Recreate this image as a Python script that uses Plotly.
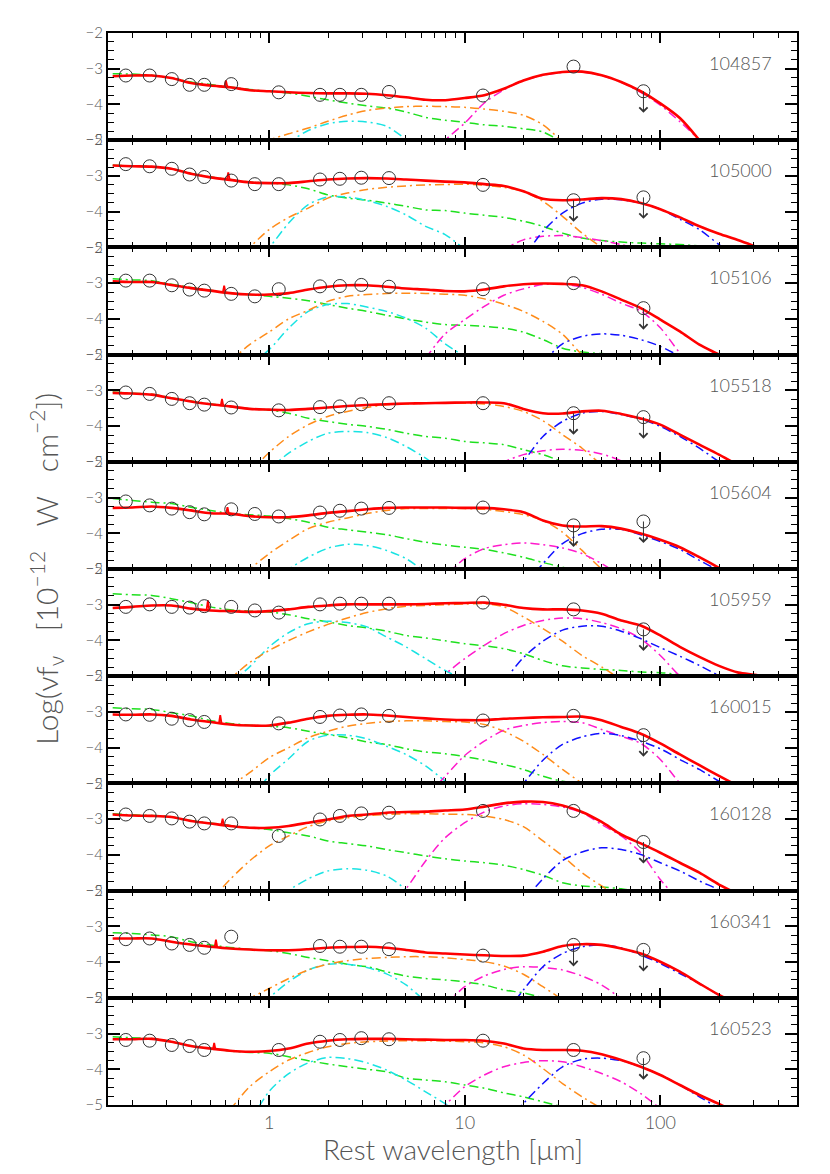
"""Stacked SED fits for ten sources: photometry, upper limits and model components."""

import numpy as np
import plotly.graph_objects as go
from plotly.subplots import make_subplots

N = None

SOURCES = ["104857", "105000", "105106", "105518", "105604",
           "105959", "160015", "160128", "160341", "160523"]

# model grid: log10 of rest wavelength (micron)
LOG_GRID = [-0.8, -0.7, -0.6, -0.5, -0.4, -0.3, -0.2, -0.1, 0.0, 0.1, 0.2, 0.3,
            0.4, 0.5, 0.6, 0.7, 0.8, 0.9, 1.0, 1.1, 1.2, 1.3, 1.4, 1.5,
            1.6, 1.7, 1.8, 1.9, 2.0, 2.1, 2.2, 2.3, 2.4, 2.5, 2.6, 2.7]

# photometry (rest micron) and log(nu f_nu)
PHOT_WAVE = [0.185, 0.245, 0.318, 0.392, 0.466, 0.640, 0.845, 1.12,
             1.82, 2.30, 2.96, 4.10, 12.4, 36.0]
PHOT = [
    [-3.19, -3.19, -3.29, -3.45, -3.45, -3.43, N, -3.66, -3.73, -3.73, -3.73, -3.65, -3.75, -2.94],
    [-2.67, -2.73, -2.80, -2.96, -3.03, -3.13, -3.23, -3.23, -3.10, -3.08, -3.05, -3.06, -3.25, N],
    [-2.93, -2.93, -3.06, -3.18, -3.21, -3.30, -3.37, -3.17, -3.09, -3.08, -3.05, -3.10, -3.17, -3.00],
    [-3.06, -3.10, -3.24, -3.36, -3.40, -3.48, N, -3.56, -3.47, -3.45, -3.39, -3.36, -3.36, N],
    [-3.11, -3.22, -3.31, -3.41, -3.47, -3.33, -3.46, -3.53, -3.42, -3.37, -3.31, -3.29, -3.28, N],
    [-3.06, -2.99, -3.06, -3.08, -3.04, -3.06, -3.16, -3.22, -2.99, -2.97, -2.97, -2.97, -2.94, -3.13],
    [-3.07, -3.08, -3.19, -3.23, -3.28, N, N, -3.32, -3.14, -3.10, -3.07, -3.11, -3.24, -3.11],
    [-2.87, -2.91, -2.98, -3.07, -3.12, -3.12, N, -3.47, -3.01, -2.91, -2.84, -2.82, -2.77, -2.77],
    [-3.36, -3.34, -3.48, -3.52, -3.60, -3.29, N, N, -3.55, -3.57, -3.57, -3.64, -3.82, N],
    [-3.18, -3.20, -3.32, -3.35, -3.46, N, N, -3.46, -3.23, -3.18, -3.13, -3.16, -3.20, -3.46],
]

# upper limits
LIMIT_WAVE = [36.0, 82.0]
LIMITS = [
    [N, -3.63], [-3.68, -3.60], [N, -3.70], [-3.64, -3.75], [-3.78, -3.67],
    [N, -3.69], [N, -3.65], [N, -3.64], [-3.52, -3.66], [N, -3.69],
]

# total model, sampled on LOG_GRID from its first point
TOTAL = [
    [-3.21, -3.19, -3.19, -3.26, -3.40, -3.47, -3.52, -3.60, -3.63, -3.66, -3.68, -3.69, -3.69, -3.70, -3.74, -3.80, -3.87, -3.88, -3.82, -3.74, -3.56, -3.33, -3.17, -3.09, -3.08, -3.18, -3.37, -3.63, -3.97, -4.38, -5.0, -5.7],
    [-2.71, -2.73, -2.74, -2.80, -2.94, -3.04, -3.11, -3.18, -3.20, -3.20, -3.15, -3.10, -3.07, -3.06, -3.07, -3.10, -3.13, -3.16, -3.18, -3.23, -3.28, -3.43, -3.64, -3.68, -3.66, -3.62, -3.65, -3.76, -3.93, -4.16, -4.41, -4.62, -4.80, -5.0, -5.2],
    [-2.95, -2.97, -2.97, -3.05, -3.14, -3.21, -3.28, -3.32, -3.32, -3.28, -3.18, -3.10, -3.06, -3.06, -3.10, -3.15, -3.18, -3.22, -3.23, -3.18, -3.09, -3.03, -3.01, -3.02, -3.06, -3.23, -3.46, -3.70, -4.02, -4.35, -4.72, -5.0, -5.3],
    [-3.07, -3.09, -3.12, -3.22, -3.31, -3.39, -3.45, -3.52, -3.54, -3.55, -3.52, -3.48, -3.44, -3.41, -3.39, -3.37, -3.36, -3.35, -3.34, -3.34, -3.36, -3.52, -3.64, -3.65, -3.59, -3.57, -3.66, -3.79, -3.96, -4.24, -4.52, -4.80, -5.1],
    [-3.29, -3.28, -3.25, -3.29, -3.36, -3.44, -3.45, -3.52, -3.55, -3.55, -3.50, -3.43, -3.38, -3.33, -3.29, -3.28, -3.28, -3.28, -3.29, -3.29, -3.33, -3.41, -3.64, -3.78, -3.81, -3.80, -3.87, -4.01, -4.18, -4.39, -4.67, -4.97, -5.3],
    [-3.09, -3.06, -3.02, -3.02, -3.11, -3.16, -3.18, -3.20, -3.18, -3.13, -3.06, -3.02, -2.99, -2.99, -2.99, -2.99, -2.98, -2.96, -2.95, -2.94, -3.00, -3.09, -3.13, -3.13, -3.16, -3.25, -3.44, -3.58, -3.86, -4.18, -4.46, -4.71, -4.90, -4.98, -5.15],
    [-3.07, -3.08, -3.07, -3.11, -3.21, -3.28, -3.35, -3.38, -3.38, -3.30, -3.19, -3.11, -3.08, -3.07, -3.10, -3.14, -3.18, -3.21, -3.23, -3.23, -3.19, -3.17, -3.15, -3.14, -3.13, -3.23, -3.42, -3.61, -3.88, -4.19, -4.49, -4.79, -5.08],
    [-2.87, -2.90, -2.91, -2.94, -3.05, -3.12, -3.19, -3.24, -3.24, -3.19, -3.10, -3.01, -2.91, -2.87, -2.82, -2.80, -2.79, -2.76, -2.73, -2.65, -2.56, -2.51, -2.52, -2.62, -2.80, -3.08, -3.43, -3.68, -3.94, -4.22, -4.50, -4.83, -5.1],
    [-3.34, -3.34, -3.34, -3.43, -3.51, -3.57, -3.62, -3.65, -3.67, -3.67, -3.64, -3.60, -3.58, -3.57, -3.60, -3.66, -3.73, -3.76, -3.79, -3.81, -3.83, -3.82, -3.71, -3.55, -3.50, -3.52, -3.62, -3.76, -3.99, -4.27, -4.60, -4.92, -5.2],
    [-3.16, -3.16, -3.15, -3.23, -3.35, -3.42, -3.48, -3.51, -3.49, -3.42, -3.28, -3.20, -3.16, -3.15, -3.15, -3.16, -3.17, -3.18, -3.18, -3.20, -3.28, -3.42, -3.46, -3.46, -3.48, -3.58, -3.74, -3.93, -4.16, -4.44, -4.72, -4.97, -5.25],
]

# stellar component, from the first grid point
STELLAR = [
    [-3.14, -3.15, -3.18, -3.26, -3.37, -3.44, -3.51, -3.58, -3.63, -3.68, -3.77, -3.87, -3.96, -4.04, -4.10, -4.21, -4.36, -4.44, -4.50, -4.57, -4.61, -4.68, -4.77, -5.05, -5.3],
    [-2.70, -2.72, -2.74, -2.80, -2.93, -3.03, -3.10, -3.17, -3.20, -3.25, -3.36, -3.53, -3.62, -3.68, -3.76, -3.85, -3.95, -3.97, -4.04, -4.10, -4.16, -4.27, -4.41, -4.60, -4.74, -4.81, -4.85, -4.88, -4.90, -4.92, -4.96, -5.05, -5.2],
    [-2.88, -2.91, -2.93, -3.03, -3.12, -3.20, -3.28, -3.32, -3.37, -3.42, -3.49, -3.60, -3.70, -3.79, -3.90, -4.00, -4.09, -4.16, -4.18, -4.21, -4.26, -4.37, -4.58, -4.82, -4.93, -4.97, -5.0, -5.1],
    [-3.05, -3.08, -3.11, -3.21, -3.30, -3.38, -3.45, -3.52, -3.55, -3.64, -3.78, -3.87, -3.95, -4.01, -4.09, -4.20, -4.29, -4.34, -4.43, -4.47, -4.52, -4.66, -4.80, -5.0, -5.2],
    [-3.03, -3.08, -3.13, -3.17, -3.27, -3.36, -3.45, -3.48, -3.52, -3.59, -3.69, -3.83, -3.90, -3.97, -4.04, -4.15, -4.25, -4.33, -4.39, -4.45, -4.55, -4.67, -4.82, -4.95, -5.1],
    [-2.69, -2.72, -2.74, -2.83, -2.94, -3.06, -3.14, -3.18, -3.20, -3.28, -3.39, -3.48, -3.58, -3.65, -3.74, -3.86, -3.93, -4.01, -4.09, -4.15, -4.23, -4.37, -4.56, -4.71, -4.77, -4.81, -4.84, -4.88, -4.90, -4.96, -5.05],
    [-2.88, -2.91, -2.93, -3.02, -3.11, -3.24, -3.32, -3.37, -3.40, -3.44, -3.54, -3.63, -3.72, -3.84, -3.91, -4.03, -4.12, -4.17, -4.25, -4.35, -4.47, -4.61, -4.80, -4.94, -4.98, -5.05],
    [-2.85, -2.88, -2.90, -2.93, -3.04, -3.11, -3.18, -3.24, -3.29, -3.38, -3.47, -3.61, -3.68, -3.75, -3.85, -3.94, -4.03, -4.11, -4.17, -4.22, -4.29, -4.41, -4.57, -4.78, -4.87, -4.90, -4.95, -5.05],
    [-3.18, -3.20, -3.24, -3.29, -3.43, -3.52, -3.59, -3.64, -3.68, -3.76, -3.87, -3.96, -4.06, -4.13, -4.27, -4.39, -4.46, -4.50, -4.55, -4.64, -4.78, -4.86, -5.0, -5.15],
    [-3.09, -3.12, -3.14, -3.23, -3.34, -3.42, -3.49, -3.53, -3.55, -3.65, -3.76, -3.85, -3.93, -4.00, -4.07, -4.25, -4.30, -4.35, -4.44, -4.53, -4.66, -4.77, -4.91, -5.05],
]

# (first log wavelength, values) for the dust components
TORUS = [
    (-0.1, [-5.3, -5.0, -4.82, -4.66, -4.47, -4.30, -4.17, -4.10, -4.06, -4.05, -4.06, -4.08, -4.13, -4.19, -4.30, -4.57, -5.05]),
    (-0.2, [-5.5, -5.0, -4.50, -4.16, -3.90, -3.62, -3.48, -3.38, -3.32, -3.28, -3.25, -3.24, -3.23, -3.26, -3.32, -3.43, -3.71, -4.13, -4.60, -5.0, -5.4]),
    (-0.2, [-5.2, -4.72, -4.37, -4.00, -3.76, -3.51, -3.37, -3.32, -3.29, -3.28, -3.29, -3.31, -3.34, -3.44, -3.59, -3.79, -4.07, -4.43, -5.0, -5.4]),
    (-0.1, [-5.3, -4.74, -4.29, -3.96, -3.73, -3.59, -3.48, -3.40, -3.38, -3.36, -3.35, -3.36, -3.38, -3.45, -3.59, -3.85, -4.24, -4.62, -5.1]),
    (-0.2, [-5.4, -5.0, -4.57, -4.20, -3.87, -3.69, -3.57, -3.45, -3.36, -3.31, -3.31, -3.31, -3.31, -3.33, -3.39, -3.48, -3.64, -3.97, -4.48, -5.0, -5.4]),
    (-0.3, [-5.5, -5.07, -4.62, -4.28, -4.00, -3.76, -3.55, -3.37, -3.22, -3.11, -3.04, -3.02, -3.00, -2.98, -2.97, -3.06, -3.34, -3.67, -4.02, -4.42, -4.74, -5.1]),
    (-0.2, [-5.07, -4.70, -4.28, -4.00, -3.72, -3.54, -3.40, -3.32, -3.27, -3.25, -3.25, -3.27, -3.28, -3.35, -3.54, -3.82, -4.19, -4.61, -5.0, -5.4]),
    (-0.3, [-5.3, -4.69, -4.17, -3.75, -3.47, -3.21, -3.05, -2.96, -2.90, -2.87, -2.85, -2.85, -2.86, -2.87, -2.91, -3.01, -3.21, -3.61, -4.03, -4.50, -4.87, -5.2]),
    (-0.2, [-5.3, -5.02, -4.74, -4.46, -4.22, -4.06, -3.96, -3.90, -3.87, -3.85, -3.85, -3.88, -3.93, -3.99, -4.11, -4.34, -4.69, -5.05]),
    (-0.2, [-5.14, -4.49, -4.07, -3.74, -3.53, -3.37, -3.28, -3.23, -3.21, -3.20, -3.20, -3.21, -3.23, -3.26, -3.37, -3.60, -3.98, -4.40, -4.77, -5.1]),
]
HOT = [
    (0.0, [-5.3, -5.05, -4.73, -4.54, -4.47, -4.49, -4.61, -4.98, -5.4]),
    (-0.1, [-5.5, -5.0, -4.32, -3.80, -3.59, -3.59, -3.69, -3.85, -4.09, -4.41, -4.64, -5.05, -5.4]),
    (-0.1, [-5.3, -4.86, -4.26, -3.79, -3.60, -3.57, -3.67, -3.79, -3.98, -4.26, -4.70, -5.05]),
    (0.0, [-5.2, -4.76, -4.43, -4.20, -4.15, -4.18, -4.32, -4.57, -4.90, -5.3]),
    (0.0, [-5.4, -5.0, -4.67, -4.42, -4.31, -4.34, -4.48, -4.71, -5.09]),
    (-0.2, [-5.2, -4.74, -4.18, -3.78, -3.53, -3.46, -3.50, -3.62, -3.90, -4.18, -4.51, -4.84, -5.1]),
    (-0.1, [-5.5, -4.79, -4.31, -3.82, -3.65, -3.65, -3.75, -3.96, -4.19, -4.51, -4.93, -5.3]),
    (0.0, [-5.5, -5.0, -4.67, -4.45, -4.39, -4.43, -4.59, -4.97, -5.5]),
    (-0.1, [-5.5, -5.0, -4.55, -4.22, -4.06, -4.06, -4.15, -4.33, -4.64, -5.11]),
    (-0.1, [-5.5, -4.62, -4.12, -3.82, -3.67, -3.70, -3.82, -4.02, -4.30, -4.63, -4.96, -5.3]),
]
WARM = [
    (0.8, [-5.6, -5.0, -4.52, -3.96, -3.59, -3.33, -3.18, -3.10, -3.09, -3.19, -3.38, -3.66, -4.02, -4.48, -5.0, -5.6]),
    (1.1, [-5.4, -5.05, -4.79, -4.69, -4.67, -4.72, -4.81, -4.92, -5.05, -5.3]),
    (0.8, [-5.1, -4.42, -4.02, -3.65, -3.34, -3.16, -3.04, -3.03, -3.12, -3.31, -3.56, -3.78, -4.25, -4.96, -5.6]),
    (1.1, [-5.3, -5.0, -4.80, -4.69, -4.65, -4.68, -4.78, -4.97, -5.2]),
    (0.9, [-5.2, -4.71, -4.43, -4.32, -4.27, -4.32, -4.41, -4.57, -4.85, -5.2]),
    (0.8, [-5.5, -4.95, -4.51, -4.14, -3.81, -3.58, -3.44, -3.37, -3.39, -3.50, -3.67, -3.95, -4.42, -5.0, -5.5]),
    (0.8, [-5.4, -4.80, -4.22, -3.82, -3.51, -3.38, -3.30, -3.27, -3.30, -3.49, -3.68, -3.88, -4.33, -5.0, -5.6]),
    (0.6, [-5.6, -4.95, -4.17, -3.52, -3.10, -2.80, -2.63, -2.57, -2.59, -2.66, -2.82, -3.15, -3.47, -3.94, -4.69, -5.3]),
    (0.9, [-5.2, -4.69, -4.39, -4.21, -4.13, -4.15, -4.22, -4.39, -4.64, -5.02, -5.4]),
    (0.8, [-5.5, -5.0, -4.49, -4.16, -3.93, -3.81, -3.76, -3.79, -3.93, -4.12, -4.35, -4.68, -5.1]),
]
COLD = [
    None,
    (1.3, [-5.3, -4.55, -4.04, -3.76, -3.65, -3.67, -3.76, -3.93, -4.21, -4.50, -4.92, -5.3]),
    (1.4, [-5.2, -4.70, -4.49, -4.42, -4.46, -4.58, -4.77, -5.05, -5.4]),
    (1.2, [-5.6, -4.99, -4.29, -3.87, -3.64, -3.59, -3.68, -3.80, -4.01, -4.29, -4.62, -5.0, -5.4]),
    (1.3, [-5.5, -4.85, -4.29, -4.01, -3.89, -3.89, -4.04, -4.23, -4.45, -4.76, -5.05, -5.4]),
    (1.2, [-5.15, -4.48, -4.02, -3.71, -3.60, -3.60, -3.74, -3.95, -4.20, -4.44, -4.70, -4.99, -5.3]),
    (1.2, [-5.6, -5.0, -4.35, -3.91, -3.70, -3.60, -3.66, -3.82, -4.03, -4.33, -4.61, -4.94, -5.3]),
    (1.3, [-5.3, -4.67, -4.16, -3.92, -3.80, -3.85, -3.99, -4.22, -4.45, -4.73, -4.98, -5.3]),
    (1.2, [-5.5, -4.78, -4.13, -3.76, -3.57, -3.52, -3.60, -3.80, -4.04, -4.32, -4.60, -4.93, -5.3]),
    (1.2, [-5.6, -4.96, -4.40, -3.93, -3.72, -3.69, -3.76, -3.93, -4.16, -4.44, -4.77, -5.09, -5.4]),
]

# emission line on the total model: log wavelength, continuum, peak
LINE_LOG = [-0.221, -0.209, -0.23, -0.241, -0.213, -0.313, -0.25, -0.238, -0.272, -0.281]
LINE_BASE = [-3.50, -3.10, -3.27, -3.44, -3.45, -3.15, -3.33, -3.17, -3.60, -3.46]
LINE_PEAK = [-3.33, -2.90, -3.07, -3.24, -3.27, -2.88, -3.09, -2.99, -3.37, -3.26]

TEXT = "#555555"
FONT = "Lato"
DASH = "9px,4px,2px,4px"
NB = "\u00a0"

COMPONENTS = [
    (HOT, "#19e3e3"),
    (TORUS, "#ff8c1a"),
    (WARM, "#ff1acc"),
    (COLD, "#1010ff"),
]

fig = make_subplots(rows=10, cols=1, shared_xaxes=True, vertical_spacing=0)


def grid_x(start, n):
    i0 = LOG_GRID.index(start)
    return [10 ** g for g in LOG_GRID[i0:i0 + n]]


for k in range(10):
    row = k + 1

    fig.add_trace(go.Scatter(
        x=grid_x(LOG_GRID[0], len(STELLAR[k])), y=STELLAR[k], mode="lines",
        line=dict(color="#1ee01e", width=1.5, dash=DASH, shape="spline", smoothing=0.8),
        hoverinfo="skip"), row=row, col=1)

    for series, color in COMPONENTS:
        item = series[k]
        if item is None:
            continue
        start, vals = item
        fig.add_trace(go.Scatter(
            x=grid_x(start, len(vals)), y=vals, mode="lines",
            line=dict(color=color, width=1.5, dash=DASH, shape="spline", smoothing=0.8),
            hoverinfo="skip"), row=row, col=1)

    fig.add_trace(go.Scatter(
        x=grid_x(LOG_GRID[0], len(TOTAL[k])), y=TOTAL[k], mode="lines",
        line=dict(color="#ff0000", width=2.6, shape="spline", smoothing=0.8),
        hoverinfo="skip"), row=row, col=1)

    p = LINE_LOG[k]
    fig.add_trace(go.Scatter(
        x=[10 ** (p - 0.007), 10 ** p, 10 ** (p + 0.007)],
        y=[LINE_BASE[k], LINE_PEAK[k], LINE_BASE[k]], mode="lines",
        line=dict(color="#ff0000", width=1.8), hoverinfo="skip"), row=row, col=1)

    fig.add_trace(go.Scatter(
        x=PHOT_WAVE + LIMIT_WAVE, y=PHOT[k] + LIMITS[k], mode="markers",
        marker=dict(symbol="circle-open", size=13, color="#333333", line=dict(width=1)),
        hoverinfo="skip"), row=row, col=1)

    for w, v in zip(LIMIT_WAVE, LIMITS[k]):
        if v is None:
            continue
        fig.add_annotation(
            x=np.log10(w), y=v, ax=0, ay=23, text="", showarrow=True,
            arrowside="start", startarrowhead=4, startarrowsize=1.6,
            arrowwidth=1, arrowcolor="#333333", row=row, col=1)

    fig.add_annotation(
        text=SOURCES[k], x=0.967, y=0.72, xref="x domain", yref="y domain",
        xanchor="right", yanchor="middle", showarrow=False,
        font=dict(family=FONT, size=18, color=TEXT, weight=300), row=row, col=1)

fig.update_yaxes(
    range=[-5, -2], tickvals=[-5, -4, -3, -2], ticks="inside", ticklen=12,
    tickwidth=1.5, tickcolor="black",
    minor=dict(tick0=-5, dtick=0.25, ticks="inside", ticklen=6, tickcolor="black", tickwidth=1.2),
    showline=True, linecolor="black", linewidth=2, mirror="allticks",
    showgrid=False, zeroline=False,
    tickfont=dict(family=FONT, size=15, color=TEXT, weight=300))

fig.update_xaxes(
    type="log", range=[np.log10(0.15), np.log10(500)], dtick=1,
    ticks="inside", ticklen=10, tickwidth=1.5, tickcolor="black",
    minor=dict(dtick="D1", ticks="inside", ticklen=5, tickcolor="black", tickwidth=1.2),
    showline=True, linecolor="black", linewidth=2, mirror="allticks",
    showgrid=False, zeroline=False,
    tickfont=dict(family=FONT, size=18, color=TEXT, weight=300))

fig.add_annotation(
    text="Rest wavelength [μm]", x=0.5, y=-0.041, xref="paper", yref="paper",
    xanchor="center", yanchor="middle", showarrow=False,
    font=dict(family=FONT, size=28, color=TEXT, weight=300))
fig.add_annotation(
    text=("Log(νf<sub>ν</sub>" + NB * 3 + "[10<sup>−12</sup>" + NB * 3 + "W"
          + NB * 3 + "cm<sup>−2</sup>])"),
    x=-0.09, y=0.5, xref="paper", yref="paper", textangle=-90,
    xanchor="center", yanchor="middle", showarrow=False,
    font=dict(family=FONT, size=30, color=TEXT, weight=300))

fig.update_layout(
    width=830, height=1174, showlegend=False,
    margin=dict(l=100, r=41, t=25, b=77),
    paper_bgcolor="white", plot_bgcolor="white")

fig.write_html("out.html")
